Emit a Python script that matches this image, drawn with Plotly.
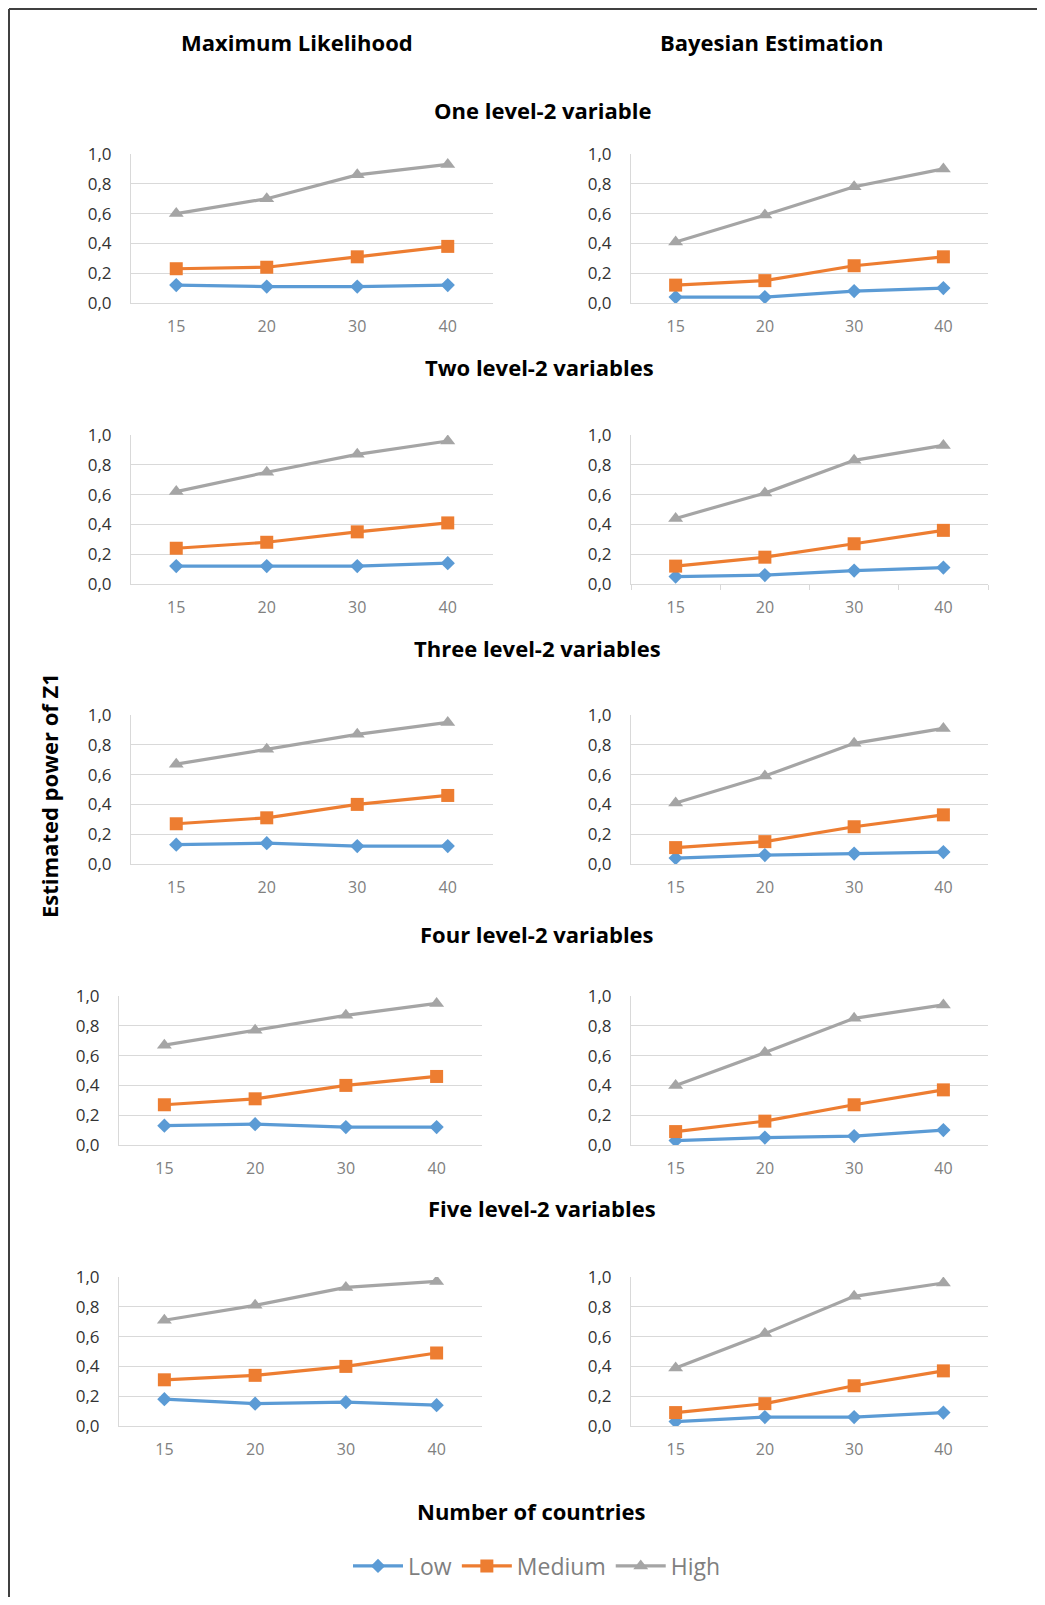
import plotly.graph_objects as go

categories = ["15", "20", "30", "40"]
series_names = ["Low", "Medium", "High"]
panel_titles = ["One level-2 variable", "Two level-2 variables", "Three level-2 variables",
                "Four level-2 variables", "Five level-2 variables"]

# Maximum Likelihood
ml_low = [[0.12, 0.11, 0.11, 0.12], [0.12, 0.12, 0.12, 0.14], [0.13, 0.14, 0.12, 0.12],
          [0.13, 0.14, 0.12, 0.12], [0.18, 0.15, 0.16, 0.14]]
ml_med = [[0.23, 0.24, 0.31, 0.38], [0.24, 0.28, 0.35, 0.41], [0.27, 0.31, 0.40, 0.46],
          [0.27, 0.31, 0.40, 0.46], [0.31, 0.34, 0.40, 0.49]]
ml_high = [[0.60, 0.70, 0.86, 0.93], [0.62, 0.75, 0.87, 0.96], [0.67, 0.77, 0.87, 0.95],
           [0.67, 0.77, 0.87, 0.95], [0.71, 0.81, 0.93, 0.97]]
# Bayesian Estimation
be_low = [[0.04, 0.04, 0.08, 0.10], [0.05, 0.06, 0.09, 0.11], [0.04, 0.06, 0.07, 0.08],
          [0.03, 0.05, 0.06, 0.10], [0.03, 0.06, 0.06, 0.09]]
be_med = [[0.12, 0.15, 0.25, 0.31], [0.12, 0.18, 0.27, 0.36], [0.11, 0.15, 0.25, 0.33],
          [0.09, 0.16, 0.27, 0.37], [0.09, 0.15, 0.27, 0.37]]
be_high = [[0.41, 0.59, 0.78, 0.90], [0.44, 0.61, 0.83, 0.93], [0.41, 0.59, 0.81, 0.91],
           [0.40, 0.62, 0.85, 0.94], [0.39, 0.62, 0.87, 0.96]]

# page is 1045x1605; the default 8px body margin offsets the figure div
OFF = 8
FW, FH = 1045 - OFF, 1605 - 2 * OFF

def px_x(x):
    return (x - OFF) / FW

def px_y(y):
    return 1 - (y - OFF) / FH

colors = ["#5B9BD5", "#ED7D31", "#A5A5A5"]
symbols = ["diamond", "square", "triangle-up"]
msizes = [11, 13, 13]

# plot-area pixel positions (top, bottom) per row and (left,right) per column
row_px = [(154, 303), (435, 584), (715, 864), (996, 1145), (1277, 1426)]
ml_x_px = [(131, 493), (131, 493), (131, 493), (119, 482), (119, 482)]
be_x_px = (631, 988)

FONT = "Open Sans"
fig = go.Figure()
layout = {}
idx = 0
for r in range(5):
    for c, (lo, me, hi) in enumerate([(ml_low, ml_med, ml_high), (be_low, be_med, be_high)]):
        idx += 1
        xa = "x" if idx == 1 else f"x{idx}"
        ya = "y" if idx == 1 else f"y{idx}"
        for s, vals in enumerate([lo[r], me[r], hi[r]]):
            fig.add_trace(go.Scatter(
                x=categories, y=vals, xaxis=xa, yaxis=ya, mode="lines+markers",
                name=series_names[s], legendgroup=series_names[s], showlegend=(idx == 1),
                line=dict(color=colors[s], width=3.2),
                marker=dict(symbol=symbols[s], size=msizes[s], color=colors[s]),
                hoverinfo="skip"))
        xl, xr = ml_x_px[r] if c == 0 else be_x_px
        yt, yb = row_px[r]
        tick_between = (idx == 4)
        layout["xaxis" if idx == 1 else f"xaxis{idx}"] = dict(
            domain=[px_x(xl), px_x(xr)], anchor=ya, type="category",
            range=[-0.5, 3.5], showgrid=False, showline=True, linecolor="#d9d9d9",
            linewidth=1, zeroline=False,
            ticks="outside" if tick_between else "", tickson="boundaries",
            ticklen=5, tickcolor="#d9d9d9",
            ticklabelstandoff=9, automargin=False,
            tickfont=dict(family=FONT, size=16, color="#808080"), fixedrange=True)
        layout["yaxis" if idx == 1 else f"yaxis{idx}"] = dict(
            domain=[px_y(yb), px_y(yt)], anchor=xa, range=[0, 1.0], dtick=0.2,
            tick0=0, tickformat=".1f", showgrid=True, gridcolor="#d9d9d9", gridwidth=1,
            showline=True, linecolor="#d9d9d9", linewidth=1, zeroline=False, ticks="",
            ticklabelstandoff=15, automargin=False,
            tickfont=dict(family=FONT, size=17, color="#333333"),
            fixedrange=True)

annotations = []
def ann(text, xpx, ypx, size, color="#000000", bold=True, angle=0):
    annotations.append(dict(
        text=text, x=px_x(xpx), y=px_y(ypx), xref="paper", yref="paper",
        xanchor="center", yanchor="middle", showarrow=False, textangle=angle,
        font=dict(family=FONT, size=size, color=color, weight="bold" if bold else "normal")))

ann("Maximum Likelihood", 297, 42, 22)
ann("Bayesian Estimation", 771, 42, 22)
title_px = [(542, 110), (539, 367), (537, 648), (537, 934), (542, 1208)]
for t, (x, y) in zip(panel_titles, title_px):
    ann(t, x, y, 22)
ann("Number of countries", 531, 1511, 22)
ann("Estimated power of Z1", 49, 796, 22, angle=-90)

# frame: top and left edges only
shapes = [
    dict(type="line", xref="paper", yref="paper", x0=px_x(9), x1=1.0,
         y0=px_y(9), y1=px_y(9), line=dict(color="#404040", width=2)),
    dict(type="line", xref="paper", yref="paper", x0=px_x(9), x1=px_x(9),
         y0=0.0, y1=px_y(9), line=dict(color="#404040", width=2)),
]

fig.update_layout(
    width=FW, height=FH, margin=dict(l=0, r=0, t=0, b=0, autoexpand=False),
    paper_bgcolor="white", plot_bgcolor="white", separators=",.",
    annotations=annotations, shapes=shapes,
    legend=dict(orientation="h", x=px_x(537), y=px_y(1566), xanchor="center",
                yanchor="middle", font=dict(family=FONT, size=23, color="#7f7f7f"),
                itemwidth=50, traceorder="normal"),
    showlegend=True,
    **layout)

fig.write_html("out.html", config={"displayModeBar": False})
